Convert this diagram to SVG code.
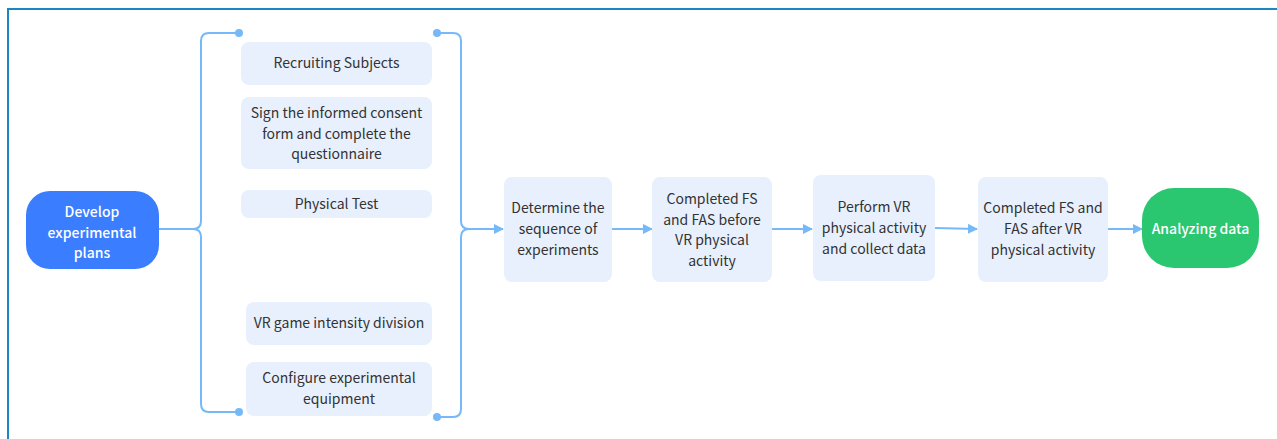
<svg xmlns="http://www.w3.org/2000/svg" width="1277" height="439" viewBox="0 0 1277 439">
<style>
  .box { fill: #e8f0fd; }
  .t { font-family: "Noto Sans CJK SC", "Source Sans Pro", "Noto Sans", sans-serif; font-size: 14px; fill: #333333; text-anchor: middle; }
  .tw { font-family: "Noto Sans CJK SC", "Source Sans Pro", "Noto Sans", sans-serif; font-size: 14px; font-weight: 500; fill: #ffffff; text-anchor: middle; }
  .ln { fill: none; stroke: #76b9f8; stroke-width: 2; }
  .dot { fill: #76b9f8; }
</style>
<defs>
  <marker id="ah" markerWidth="10" markerHeight="10" refX="9" refY="5" orient="auto" markerUnits="userSpaceOnUse">
    <path d="M0,0 L10,5 L0,10 Z" fill="#76b9f8"/>
  </marker>
</defs>
<rect x="0" y="0" width="1277" height="439" fill="#ffffff"/>
<rect x="8" y="9" width="1300" height="460" fill="none" stroke="#1a87c2" stroke-width="2"/>

<g id="connectors">
  <path class="ln" d="M159,229 H193 Q201,229 201,221 V41 Q201,33 209,33 H239"/>
  <path class="ln" d="M193,229 Q201,229 201,237 V404 Q201,412 209,412 H239"/>
  <circle class="dot" cx="239" cy="33" r="4"/>
  <circle class="dot" cx="239" cy="412" r="4"/>
  <path class="ln" d="M437,33 H453 Q461,33 461,41 V221 Q461,229 469,229 H503" marker-end="url(#ah)"/>
  <path class="ln" d="M437,417 H453 Q461,417 461,409 V237 Q461,229 469,229"/>
  <circle class="dot" cx="437" cy="33" r="4"/>
  <circle class="dot" cx="437" cy="417" r="4"/>
  <path class="ln" d="M612,229 H652" marker-end="url(#ah)"/>
  <path class="ln" d="M772,229 H812" marker-end="url(#ah)"/>
  <path class="ln" d="M935,228 L977,229" marker-end="url(#ah)"/>
  <path class="ln" d="M1108,229 H1142" marker-end="url(#ah)"/>
</g>

<g id="develop">
  <rect x="26" y="191" width="133" height="78" rx="24" fill="#3a7dff"/>
  <text class="tw" x="92" y="217">Develop</text>
  <text class="tw" x="92" y="237.5">experimental</text>
  <text class="tw" x="92" y="258">plans</text>
</g>

<g id="recruit">
  <rect class="box" x="241" y="42" width="191" height="43" rx="8"/>
  <text class="t" x="336.5" y="68">Recruiting Subjects</text>
</g>

<g id="consent">
  <rect class="box" x="241" y="97" width="191" height="72" rx="8"/>
  <text class="t" x="336.5" y="118">Sign the informed consent</text>
  <text class="t" x="336.5" y="138.5">form and complete the</text>
  <text class="t" x="336.5" y="159">questionnaire</text>
</g>

<g id="physical">
  <rect class="box" x="241" y="190" width="191" height="28" rx="8"/>
  <text class="t" x="336.5" y="209">Physical Test</text>
</g>

<g id="vrgame">
  <rect class="box" x="246" y="302" width="186" height="43" rx="8"/>
  <text class="t" x="339" y="328">VR game intensity division</text>
</g>

<g id="configure">
  <rect class="box" x="246" y="362" width="186" height="54" rx="8"/>
  <text class="t" x="339" y="383">Configure experimental</text>
  <text class="t" x="339" y="404">equipment</text>
</g>

<g id="sequence">
  <rect class="box" x="504" y="177" width="108" height="105" rx="8"/>
  <text class="t" x="558" y="213">Determine the</text>
  <text class="t" x="558" y="234">sequence of</text>
  <text class="t" x="558" y="255">experiments</text>
</g>

<g id="before">
  <rect class="box" x="652" y="177" width="120" height="105" rx="8"/>
  <text class="t" x="712" y="204">Completed FS</text>
  <text class="t" x="712" y="224.5">and FAS before</text>
  <text class="t" x="712" y="245">VR physical</text>
  <text class="t" x="712" y="265.5">activity</text>
</g>

<g id="perform">
  <rect class="box" x="813" y="175" width="122" height="106" rx="8"/>
  <text class="t" x="874" y="212">Perform VR</text>
  <text class="t" x="874" y="233">physical activity</text>
  <text class="t" x="874" y="254">and collect data</text>
</g>

<g id="after">
  <rect class="box" x="978" y="177" width="130" height="105" rx="8"/>
  <text class="t" x="1043" y="213">Completed FS and</text>
  <text class="t" x="1043" y="234">FAS after VR</text>
  <text class="t" x="1043" y="255">physical activity</text>
</g>

<g id="analyze">
  <rect x="1142" y="188" width="117" height="80" rx="32" fill="#2ac670"/>
  <text class="tw" x="1200.5" y="234">Analyzing data</text>
</g>
</svg>
